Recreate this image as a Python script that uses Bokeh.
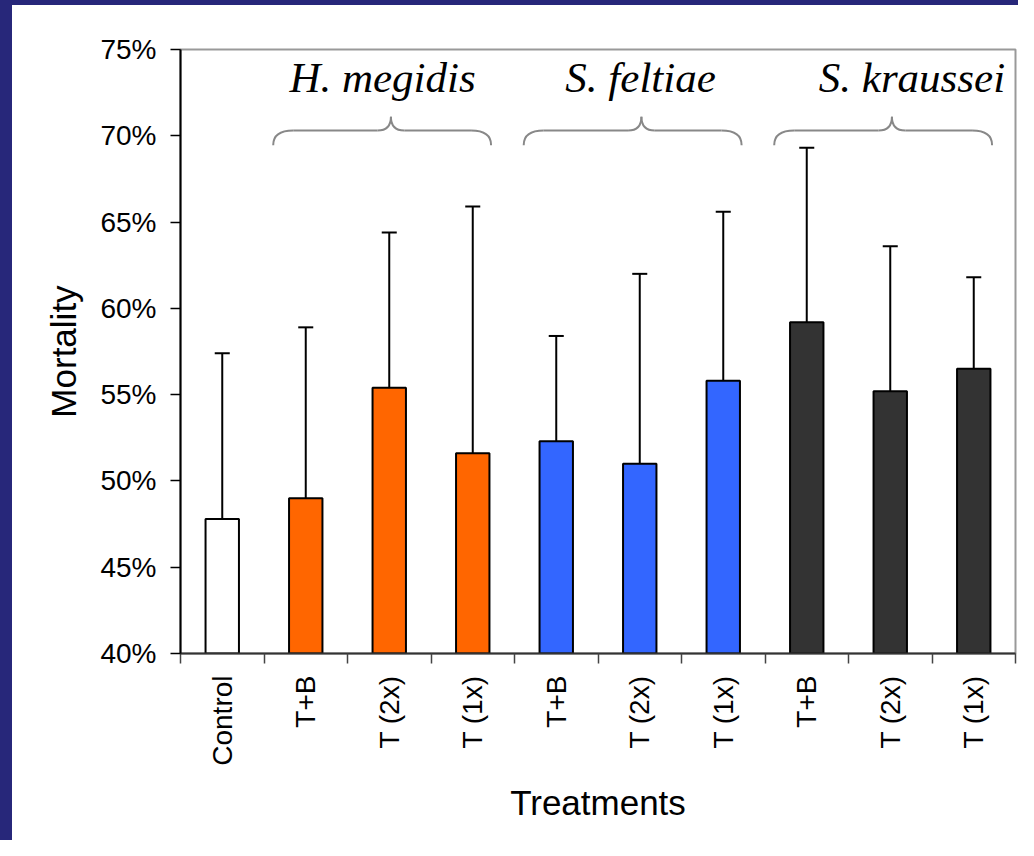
import math
from bokeh.plotting import figure
from bokeh.models import Range1d, FixedTicker, CustomJSTickFormatter, PrintfTickFormatter
from bokeh.core.properties import value
from bokeh.embed import file_html
from bokeh.resources import INLINE

# ---- data ----
categories = ["Control", "T+B", "T (2x)", "T (1x)", "T+B", "T (2x)", "T (1x)", "T+B", "T (2x)", "T (1x)"]
species = ["H. megidis", "S. feltiae", "S. kraussei"]
mortality = [47.8, 49.0, 55.4, 51.6, 52.3, 51.0, 55.8, 59.2, 55.2, 56.5]
error_top = [57.4, 58.9, 64.4, 65.9, 58.4, 62.0, 65.6, 69.3, 63.6, 61.8]
bar_colors = ["#FFFFFF", "#FF6600", "#FF6600", "#FF6600", "#3366FF", "#3366FF", "#3366FF",
              "#333333", "#333333", "#333333"]
y_ticks = [40, 45, 50, 55, 60, 65, 70, 75]

# ---- layout / style ----
xs = [i + 0.5 for i in range(len(categories))]
y_min, y_max = y_ticks[0], y_ticks[-1]
BLUE = "#27277a"

p = figure(width=1018, height=840, x_range=Range1d(0, len(categories)), y_range=Range1d(y_min, y_max),
           output_backend="svg", toolbar_location=None,
           min_border_left=180, min_border_right=3, min_border_top=49, min_border_bottom=187)
p.border_fill_color = None
p.background_fill_color = "white"
p.outline_line_color = "#999999"
p.outline_line_width = 2
p.xgrid.visible = False
p.ygrid.visible = False
p.styles = {
    "background-color": "white",
    "box-shadow": f"inset 12px 5px 0 0 {BLUE}",
}

# y axis
ya = p.yaxis[0]
ya.ticker = FixedTicker(ticks=y_ticks, minor_ticks=[])
ya.formatter = PrintfTickFormatter(format="%d%%")
ya.major_tick_out = 10
ya.major_tick_in = 0
ya.major_tick_line_color = "black"
ya.major_tick_line_width = 1.5
ya.axis_line_color = "black"
ya.axis_line_width = 2
ya.major_label_text_font = "Liberation Sans"
ya.major_label_text_font_size = "28px"
ya.major_label_text_color = "black"
ya.major_label_standoff = 14
ya.axis_label = "Mortality"
ya.axis_label_text_font = "Liberation Sans"
ya.axis_label_text_font_size = "35px"
ya.axis_label_text_font_style = "normal"
ya.axis_label_text_color = "black"
ya.axis_label_standoff = 14

# x axis
xa = p.xaxis[0]
xa.ticker = FixedTicker(ticks=xs, minor_ticks=list(range(len(categories) + 1)))
xa.formatter = CustomJSTickFormatter(args=dict(labels=categories), code="return labels[Math.floor(tick)];")
xa.major_tick_line_color = None
xa.major_tick_out = 10
xa.major_tick_in = 0
xa.minor_tick_out = 10
xa.minor_tick_in = 0
xa.minor_tick_line_color = "#444444"
xa.minor_tick_line_width = 1.5
xa.axis_line_color = "#333333"
xa.axis_line_width = 2
xa.major_label_orientation = math.pi / 2
xa.major_label_text_font = "Liberation Sans"
xa.major_label_text_font_size = "28px"
xa.major_label_text_color = "black"
xa.major_label_standoff = 12
xa.axis_label = "Treatments"
xa.axis_label_text_font = "Liberation Sans"
xa.axis_label_text_font_size = "35px"
xa.axis_label_text_font_style = "normal"
xa.axis_label_text_color = "black"
xa.axis_label_standoff = 14

# error bars
cap = 0.09
p.segment(x0=xs, y0=mortality, x1=xs, y1=error_top, line_color="black", line_width=2)
p.segment(x0=[x - cap for x in xs], y0=error_top, x1=[x + cap for x in xs], y1=error_top,
          line_color="black", line_width=2)

# bars
p.vbar(x=xs, top=mortality, bottom=y_min, width=0.40, fill_color=bar_colors,
       line_color="black", line_width=2)

# braces and species labels
y_end, y_mid, y_peak = 69.45, 70.3, 71.1
r, r2 = 0.24, 0.16
label_offsets = [1.42, 1.51, 1.76]
BR = "#888888"
for g, name in enumerate(species):
    start = 1 + 3 * g
    L, P, R = start + 0.11, start + 1.52, start + 2.72
    p.quadratic(x0=[L, P - r2, P, R - r], y0=[y_end, y_mid, y_peak, y_mid],
                x1=[L + r, P, P + r2, R], y1=[y_mid, y_peak, y_mid, y_end],
                cx=[L, P, P, R], cy=[y_mid, y_mid, y_mid, y_mid],
                line_color=BR, line_width=2)
    p.segment(x0=[L + r, P + r2], y0=[y_mid, y_mid], x1=[P - r2, R - r], y1=[y_mid, y_mid],
              line_color=BR, line_width=2)
    p.text(x=[start + label_offsets[g]], y=[73.4], text=[name],
           text_font=value("Liberation Serif"), text_font_style="italic",
           text_font_size="43px", text_align="center", text_baseline="alphabetic",
           text_color="black")

open("out.html", "w").write(file_html(p, INLINE))
